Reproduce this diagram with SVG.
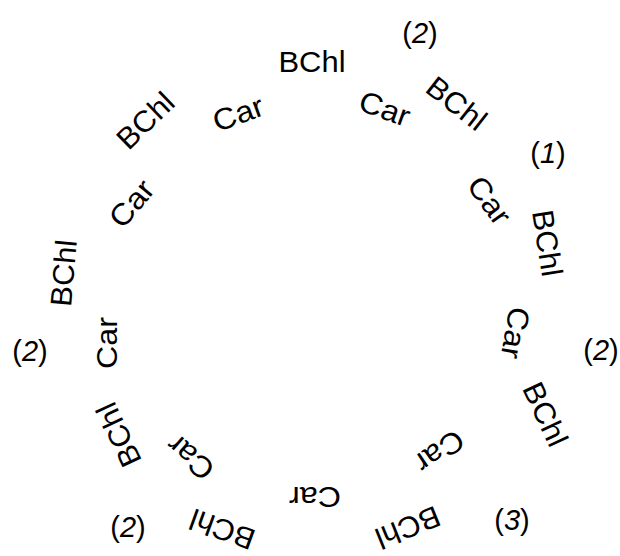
<svg xmlns="http://www.w3.org/2000/svg" width="620" height="556" viewBox="0 0 620 556">
  <style>
    .lbl { font-family: "Liberation Sans", Arial, Helvetica, sans-serif; font-size: 30px; fill: #000; text-anchor: middle; }
    .num { font-family: "Liberation Sans", Arial, Helvetica, sans-serif; font-size: 29px; fill: #000; text-anchor: middle; }
    .it { font-style: italic; }
  </style>
  <rect width="620" height="556" fill="#fff"/>

  <!-- ring of pigments, each label rotated along the ring -->
  <g id="ring">
    <g id="bchl-1" transform="translate(312,61)"><text class="lbl" y="11" textLength="67" lengthAdjust="spacingAndGlyphs">BChl</text></g>
    <g id="car-1" transform="translate(385,108) rotate(20)"><text class="lbl" y="11" textLength="52" lengthAdjust="spacingAndGlyphs">Car</text></g>
    <g id="bchl-2" transform="translate(457,103) rotate(38)"><text class="lbl" y="11" textLength="67" lengthAdjust="spacingAndGlyphs">BChl</text></g>
    <g id="car-2" transform="translate(490,200) rotate(54)"><text class="lbl" y="11" textLength="52" lengthAdjust="spacingAndGlyphs">Car</text></g>
    <g id="bchl-3" transform="translate(548,243) rotate(81)"><text class="lbl" y="11" textLength="67" lengthAdjust="spacingAndGlyphs">BChl</text></g>
    <g id="car-3" transform="translate(516,333) rotate(100)"><text class="lbl" y="11" textLength="52" lengthAdjust="spacingAndGlyphs">Car</text></g>
    <g id="bchl-4" transform="translate(546,414) rotate(65)"><text class="lbl" y="11" textLength="67" lengthAdjust="spacingAndGlyphs">BChl</text></g>
    <g id="car-4" transform="translate(440,452) rotate(146)"><text class="lbl" y="11" textLength="52" lengthAdjust="spacingAndGlyphs">Car</text></g>
    <g id="bchl-5" transform="translate(408,528) rotate(158)"><text class="lbl" y="11" textLength="67" lengthAdjust="spacingAndGlyphs">BChl</text></g>
    <g id="car-5" transform="translate(315,498) rotate(180)"><text class="lbl" y="11" textLength="52" lengthAdjust="spacingAndGlyphs">Car</text></g>
    <g id="bchl-6" transform="translate(222,530) rotate(200)"><text class="lbl" y="11" textLength="67" lengthAdjust="spacingAndGlyphs">BChl</text></g>
    <g id="car-6" transform="translate(190,458) rotate(221)"><text class="lbl" y="11" textLength="52" lengthAdjust="spacingAndGlyphs">Car</text></g>
    <g id="bchl-7" transform="translate(118,435) rotate(245)"><text class="lbl" y="11" textLength="67" lengthAdjust="spacingAndGlyphs">BChl</text></g>
    <g id="car-7" transform="translate(106,343) rotate(270)"><text class="lbl" y="11" textLength="52" lengthAdjust="spacingAndGlyphs">Car</text></g>
    <g id="bchl-8" transform="translate(63,273) rotate(275)"><text class="lbl" y="11" textLength="67" lengthAdjust="spacingAndGlyphs">BChl</text></g>
    <g id="car-8" transform="translate(131,203) rotate(310)"><text class="lbl" y="11" textLength="52" lengthAdjust="spacingAndGlyphs">Car</text></g>
    <g id="bchl-9" transform="translate(145,120) rotate(316)"><text class="lbl" y="11" textLength="67" lengthAdjust="spacingAndGlyphs">BChl</text></g>
    <g id="car-9" transform="translate(238,113) rotate(-20)"><text class="lbl" y="11" textLength="52" lengthAdjust="spacingAndGlyphs">Car</text></g>
  </g>

  <!-- segment counts -->
  <g id="counts">
    <text class="num" x="420" y="43">(<tspan class="it">2</tspan>)</text>
    <text class="num" x="548" y="163">(<tspan class="it">1</tspan>)</text>
    <text class="num" x="601" y="360">(<tspan class="it">2</tspan>)</text>
    <text class="num" x="512" y="530">(<tspan class="it">3</tspan>)</text>
    <text class="num" x="128" y="537">(<tspan class="it">2</tspan>)</text>
    <text class="num" x="30" y="361">(<tspan class="it">2</tspan>)</text>
  </g>
</svg>
